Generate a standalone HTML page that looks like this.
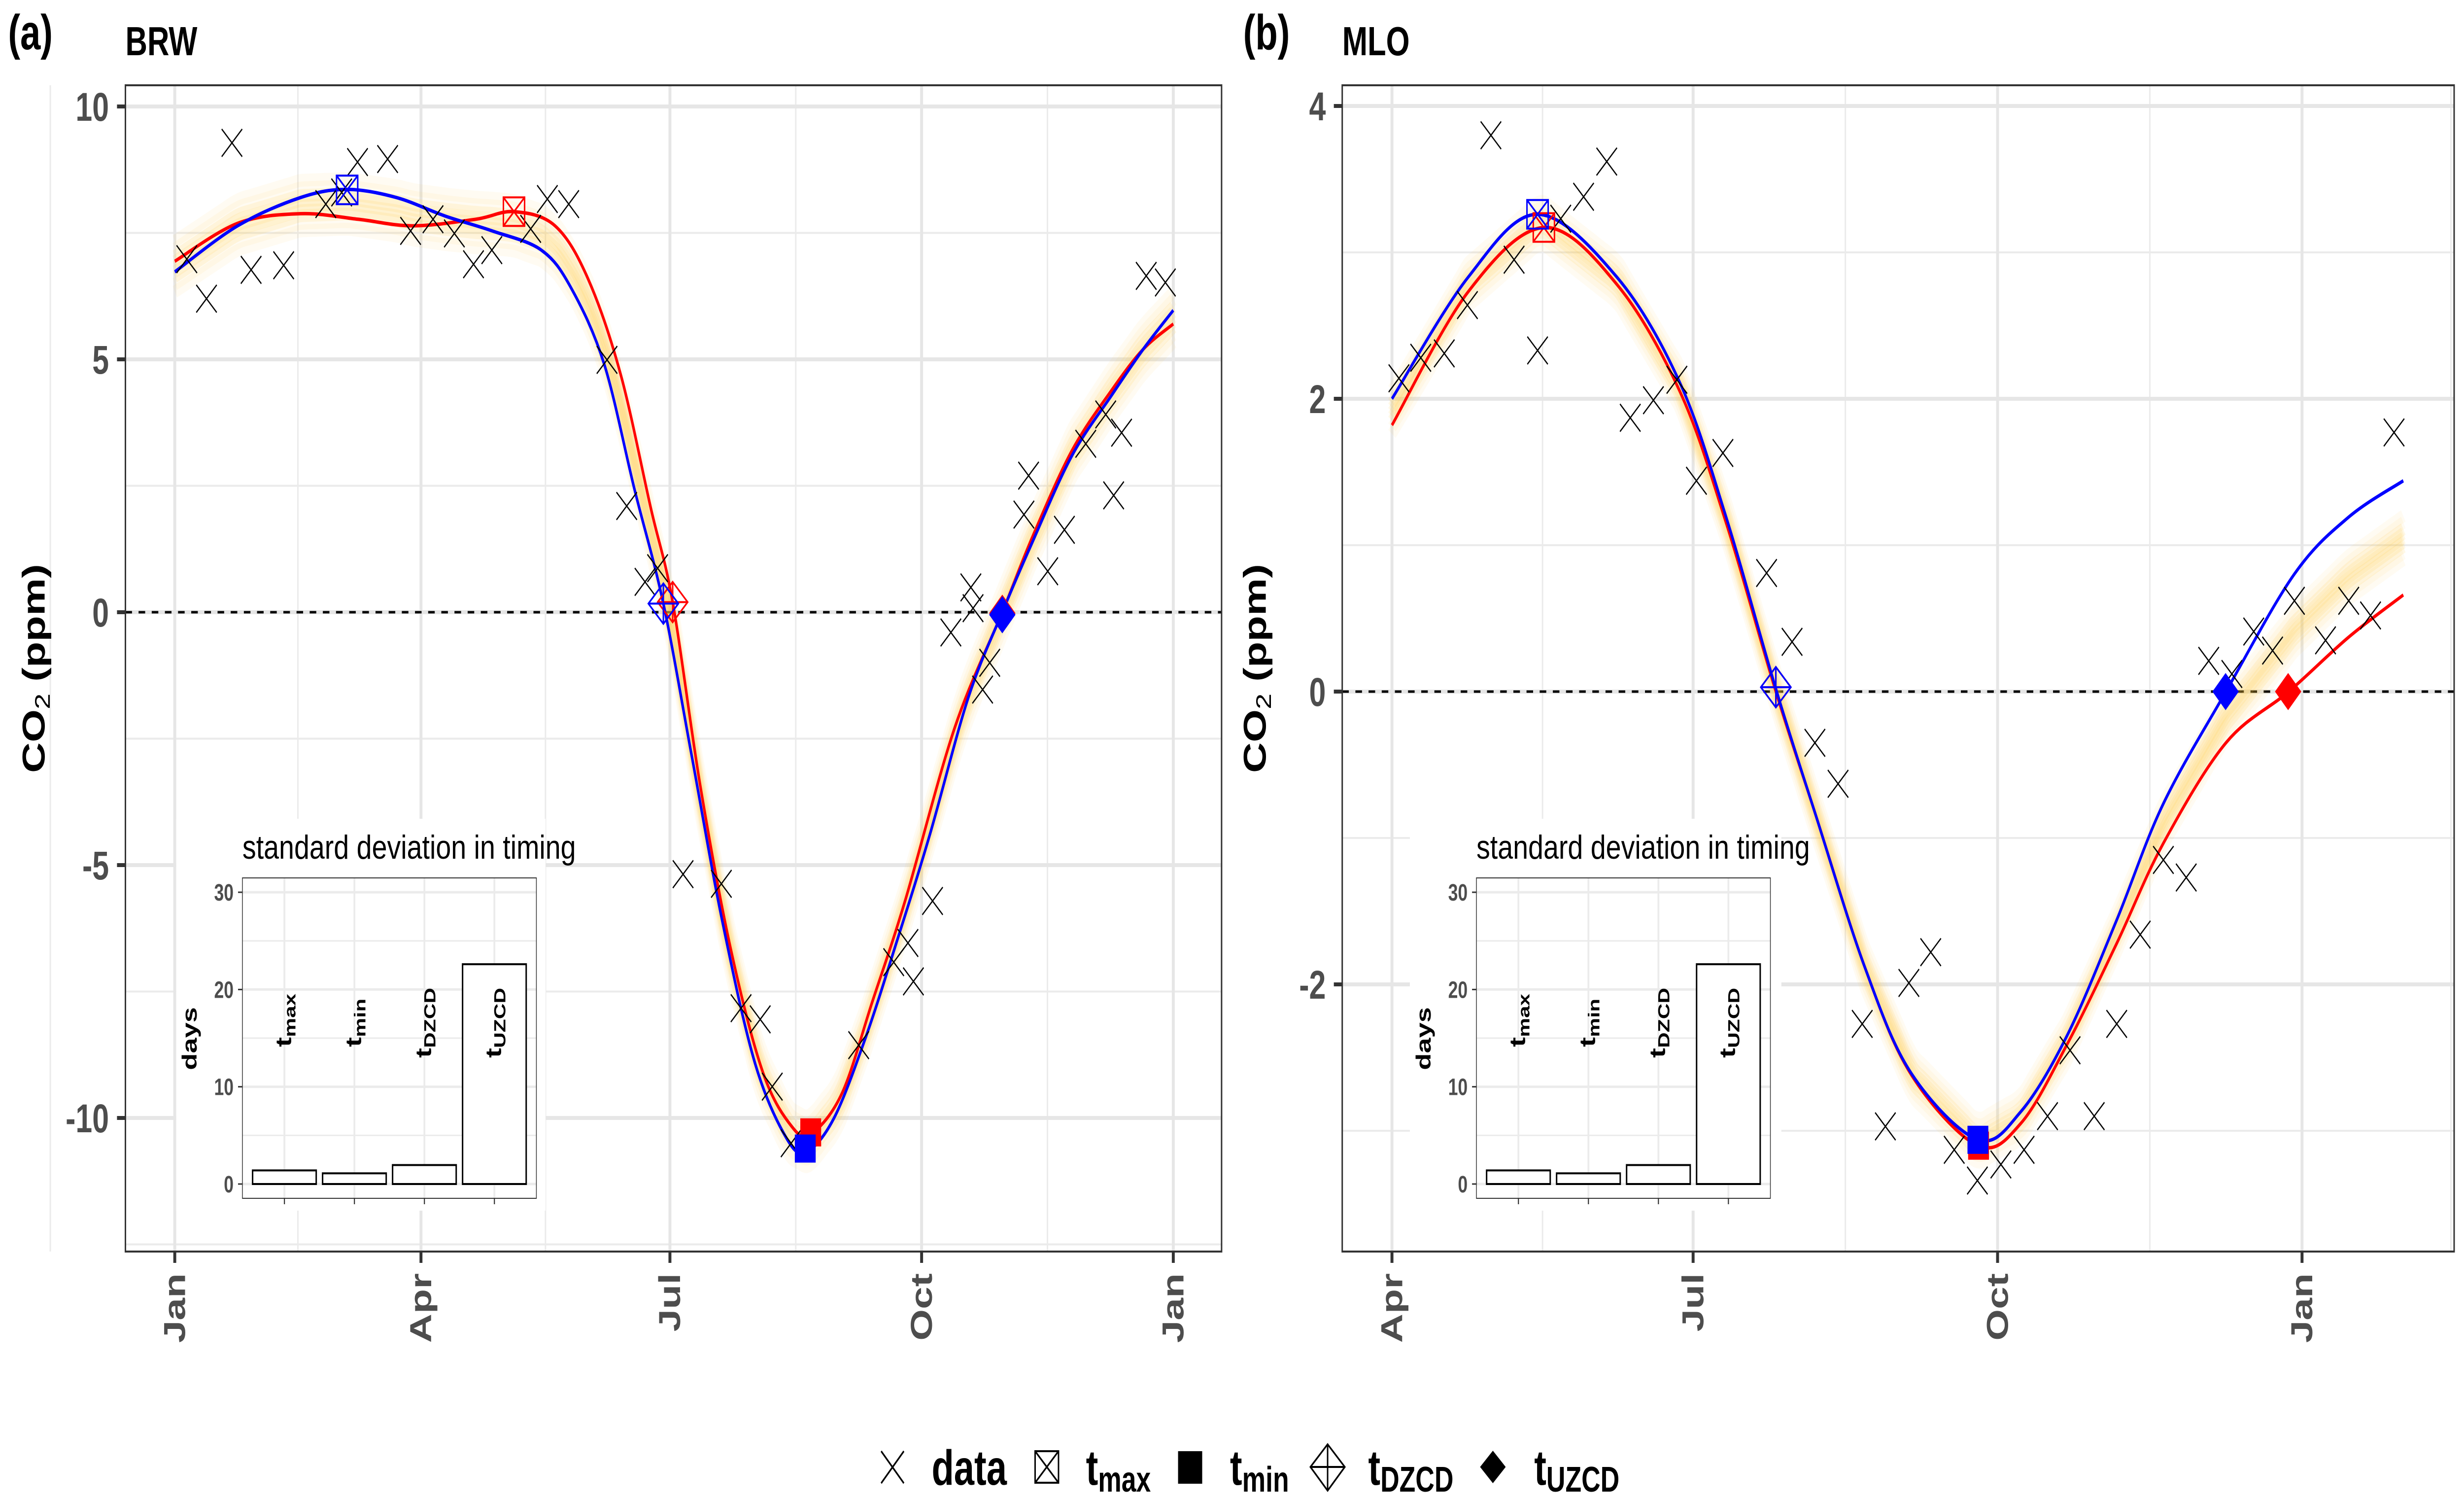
<!DOCTYPE html>
<html><head><meta charset="utf-8">
<style>
html,body{margin:0;padding:0;background:#fff;overflow:hidden;width:100%;height:100%;}
svg{display:block;}
text{font-family:"Liberation Sans",Arial,sans-serif;}
</style></head>
<body>
<svg id="fig" xmlns="http://www.w3.org/2000/svg" style="width:100vw;height:100vh" viewBox="0 0 6739 3041" preserveAspectRatio="none">
<rect x="0" y="0" width="6739" height="3041" fill="#fff"/>
<g id="legend">
  <g>
    <path d="M2410,2944L2472,3009M2410,3009L2472,2944" stroke="#000" stroke-width="4" fill="none"/>
    <text x="2548" y="3012" font-size="100" font-weight="bold">data</text>
  </g>
  <g>
    <path d="M2831,2944h64v64h-64zM2831,2944L2895,3008M2895,2944L2831,3008" stroke="#000" stroke-width="4" fill="none"/>
    <text x="2970" y="3012" font-size="100" font-weight="bold">t<tspan font-size="72" dy="14">max</tspan></text>
  </g>
  <g>
    <rect x="3222" y="2944" width="66" height="66" fill="#000"/>
    <text x="3364" y="3012" font-size="100" font-weight="bold">t<tspan font-size="72" dy="14">min</tspan></text>
  </g>
  <g>
    <path d="M3631,2930L3678,2976L3631,3024L3584,2976zM3631,2930V3024M3584,2976H3678" stroke="#000" stroke-width="4" fill="none"/>
    <text x="3742" y="3012" font-size="100" font-weight="bold">t<tspan font-size="72" dy="14">DZCD</tspan></text>
  </g>
  <g>
    <path d="M4083,2943L4118,2976L4083,3009L4048,2976z" fill="#000"/>
    <text x="4196" y="3012" font-size="100" font-weight="bold">t<tspan font-size="72" dy="14">UZCD</tspan></text>
  </g>
</g>
</svg>
<script>
// ---------- Panel (a) BRW data ----------
const aDataDays = [4.4,11.6,20.9,27.9,39.8,55.2,61,66.8,77.8,86.2,94.4,102.2,109.2,115.9,130.1,136.2,144.0,158.0,165.2,171.9,176.5,185.8,199.8,207.0,214.0,218.4,225.3,250.0,262.8,268.0,270.0,277.0,283.7,291.0,291.8,295.3,297.9,310.4,312.1,319.1,325.2,333.0,340.3,343.2,346.1,355.1,362.1];
const aDataVals = [6.98,6.20,9.28,6.77,6.86,8.07,8.3,8.90,8.96,7.54,7.77,7.49,6.88,7.16,7.58,8.17,8.07,4.99,2.10,0.60,0.87,-5.18,-5.37,-7.83,-8.05,-9.38,-10.5,-8.56,-6.92,-6.54,-7.30,-5.71,-0.40,0.49,0.08,-1.53,-1.00,1.93,2.70,0.81,1.63,3.33,3.91,2.31,3.55,6.65,6.52];
const aRedDays = [0,23,46,67,87,110,124,139,151,163,174,182,192,203,215,226,233,244,255,267,285,302.5,313.6,328,342.6,354,365];
const aRedVals = [6.94,7.69,7.88,7.77,7.64,7.77,7.92,7.64,6.6,4.7,2.06,0.2,-3.4,-6.6,-9.1,-10.2,-10.3,-9.5,-7.7,-5.7,-2.3,0,1.5,3.2,4.4,5.2,5.7];
const aBlueDays = [0,23,46,63,81,99,116,134,145,157,168,178.6,189,200,212,223.6,231,241,252.6,264,276,290,302.5,313.6,328,342.6,354,365];
const aBlueVals = [6.73,7.64,8.2,8.36,8.2,7.83,7.54,7.16,6.4,4.9,2.44,0.17,-2.85,-6.07,-8.9,-10.4,-10.66,-10.0,-8.4,-6.5,-4.4,-1.7,0,1.4,3.1,4.3,5.2,5.97];
const aRedMarks = [[124,7.92],[232.4,-10.28],[182,0.2],[302.5,-0.02]];
const aBlueMarks = [[63,8.35],[230.4,-10.6],[178.6,0.17],[302.5,-0.05]];
const aSdLabels = ["max","min","DZCD","UZCD"];
const aSdVals = [1.4,1.1,1.95,22.6];

// ---------- Panel (b) MLO data ----------
const bDataDays = [2.1,8.7,15.8,22.8,29.9,36.9,44.0,51.0,57.9,64.9,72.0,79.0,86.1,92.0,100.0,113.2,120.9,127.8,134.8,142.1,149.1,156.2,162.8,169.9,176.9,184.0,191.0,198.1,204.9,212.2,219.0,226.1,233.1,240.0,246.8,253.8,260.4,266.1,272.7,282.1,289.1,295.7,302.8];
const bDataVals = [2.14,2.28,2.31,2.64,3.80,2.95,2.33,3.23,3.38,3.62,1.87,1.99,2.13,1.44,1.63,0.81,0.34,-0.35,-0.63,-2.27,-2.97,-1.99,-1.78,-3.13,-3.34,-3.23,-3.13,-2.90,-2.45,-2.90,-2.27,-1.66,-1.15,-1.27,0.21,0.12,0.41,0.28,0.62,0.35,0.62,0.52,1.77];
const bRedDays = [0,23,46,68,87,101,116,128,143,157,177,190,204,219,233,252,271,289,305.6];
const bRedVals = [1.82,2.73,3.17,2.78,2.05,1.15,0,-0.84,-1.89,-2.62,-3.1,-2.95,-2.41,-1.72,-1.04,-0.35,0,0.37,0.66];
const bBlueDays = [0,23,44,68,87,101,116,128,143,157,177,190,204,219,233,252,272.6,289,305.6];
const bBlueVals = [2.0,2.83,3.26,2.83,2.11,1.19,0.02,-0.84,-1.89,-2.61,-3.06,-2.87,-2.35,-1.56,-0.77,0,0.8,1.19,1.44];
const bRedMarks = [[45.9,3.17],[177.2,-3.1],[116,0.03],[270.8,0]];
const bBlueMarks = [[44,3.26],[177,-3.06],[116,0.03],[251.9,0]];
const bSdLabels = ["max","min","DZCD","UZCD"];
const bSdVals = [1.4,1.1,1.95,22.6];

const NS = "http://www.w3.org/2000/svg";
const svg = document.getElementById('fig');
const legendNode = document.getElementById('legend');
function el(tag, attrs, parent, txt){
  const e = document.createElementNS(NS, tag);
  for (const k in attrs) e.setAttribute(k, attrs[k]);
  if (txt !== undefined) e.textContent = txt;
  if (parent) parent.appendChild(e); else svg.insertBefore(e, legendNode);
  return e;
}
function spline(pts){
  let d = "M" + pts[0][0].toFixed(1) + "," + pts[0][1].toFixed(1);
  for (let i=0;i<pts.length-1;i++){
    const p0 = pts[Math.max(0,i-1)], p1 = pts[i], p2 = pts[i+1], p3 = pts[Math.min(pts.length-1,i+2)];
    const c1 = [p1[0]+(p2[0]-p0[0])/6, p1[1]+(p2[1]-p0[1])/6];
    const c2 = [p2[0]-(p3[0]-p1[0])/6, p2[1]-(p3[1]-p1[1])/6];
    d += " C"+c1[0].toFixed(1)+","+c1[1].toFixed(1)+" "+c2[0].toFixed(1)+","+c2[1].toFixed(1)+" "+p2[0].toFixed(1)+","+p2[1].toFixed(1);
  }
  return d;
}
function interp(days, vals, d){
  if (d<=days[0]) return vals[0];
  for (let i=0;i<days.length-1;i++){
    if (d<=days[i+1]){ const t=(d-days[i])/(days[i+1]-days[i]); return vals[i]+t*(vals[i+1]-vals[i]); }
  }
  return vals[vals.length-1];
}

function drawPanel(cfg){
  const g = el('g', {});
  
  
  const {L,R,T,B} = cfg;
  const X = cfg.x, Y = cfg.y;
  cfg.yMinor.forEach(v=>{ const l=el('line',{x1:L,x2:R,y1:Y(v),y2:Y(v),stroke:'#ebebeb','stroke-width':4},g);   });
  cfg.xMinor.forEach(d=>{ const l=el('line',{x1:X(d),x2:X(d),y1:T,y2:B,stroke:'#ebebeb','stroke-width':4},g);   });
  cfg.yTicks.forEach(v=>{ const l=el('line',{x1:L,x2:R,y1:Y(v),y2:Y(v),stroke:'#e6e6e6','stroke-width':8},g);   });
  cfg.xTicks.forEach(d=>{ const l=el('line',{x1:X(d),x2:X(d),y1:T,y2:B,stroke:'#e6e6e6','stroke-width':8},g);   });
  const z = el('line',{x1:L,x2:R,y1:Y(0),y2:Y(0),stroke:'#000','stroke-width':5,'stroke-dasharray':'18,18'},g);
   
  const bandG = el('g',{},g);
   
  const d0 = Math.min(cfg.redDays[0], cfg.blueDays[0]);
  const d1 = Math.max(cfg.redDays[cfg.redDays.length-1], cfg.blueDays[cfg.blueDays.length-1]);
  const offs = [-0.5,-0.35,-0.2,-0.1,0,0.1,0.2,0.35,0.5];
  offs.forEach(o=>{
    const pts=[];
    for (let d=d0; d<=d1+0.01; d+=(d1-d0)/120){
      const m=(interp(cfg.redDays,cfg.redVals,d)+interp(cfg.blueDays,cfg.blueVals,d))/2;
      pts.push([X(d), Y(m+o*cfg.bandScale)]);
    }
    const p = el('path',{d:spline(pts),fill:'none',stroke:'#ffc640','stroke-opacity':(Math.abs(o)>0.3?0.07:0.13),'stroke-width':26,'stroke-linejoin':'round'},bandG);
     
  });
  const ib = el('rect',{x:cfg.inBg[0],y:1661,width:cfg.inBg[1]-cfg.inBg[0],height:795,fill:'#fff'},g);
   
  const rp = el('path',{d:spline(cfg.redDays.map((d,i)=>[X(d),Y(cfg.redVals[i])])),fill:'none',stroke:'#ff0000','stroke-width':7},g);
   
  const bp = el('path',{d:spline(cfg.blueDays.map((d,i)=>[X(d),Y(cfg.blueVals[i])])),fill:'none',stroke:'#0000ff','stroke-width':7},g);
   
  cfg.dataDays.forEach((d,i)=>{
    const cx=X(d), cy=Y(cfg.dataVals[i]), s=28;
    const p=el('path',{d:`M${cx-s},${cy-s}L${cx+s},${cy+s}M${cx-s},${cy+s}L${cx+s},${cy-s}`,stroke:'#000','stroke-width':3,fill:'none'},g);
     
  });
  function marks(arr,col,nm){
    const [mx,mn,dz,uz]=arr;
    let cx=X(mx[0]), cy=Y(mx[1]), s=29;
    let m=el('path',{d:`M${cx-s},${cy-s}h${2*s}v${2*s}h${-2*s}zM${cx-s},${cy-s}L${cx+s},${cy+s}M${cx+s},${cy-s}L${cx-s},${cy+s}`,fill:'none',stroke:col,'stroke-width':4},g);
     
    cx=X(mn[0]); cy=Y(mn[1]);
    m=el('rect',{x:cx-28,y:cy-28,width:57,height:57,fill:col},g);
     
    cx=X(dz[0]); cy=Y(dz[1]); s=41;
    m=el('path',{d:`M${cx},${cy-s}L${cx+s},${cy}L${cx},${cy+s}L${cx-s},${cy}zM${cx},${cy-s}V${cy+s}M${cx-s},${cy}H${cx+s}`,fill:'none',stroke:col,'stroke-width':4},g);
     
    cx=X(uz[0]); cy=Y(uz[1]); s=36;
    m=el('path',{d:`M${cx},${cy-s*1.05}L${cx+s},${cy}L${cx},${cy+s*1.05}L${cx-s},${cy}z`,fill:col},g);
     
  }
  marks(cfg.redMarks,'#ff0000','red');
  marks(cfg.blueMarks,'#0000ff','blue');
  const bd = el('rect',{x:L,y:T,width:R-L,height:B-T,fill:'none',stroke:'#333','stroke-width':4},g);
   
  cfg.yTicks.forEach((v,i)=>{
    const t=el('line',{x1:L-23,x2:L,y1:Y(v),y2:Y(v),stroke:'#333','stroke-width':8},g);
     
    const tx=el('text',{x:L-45,y:Y(v)+29,'text-anchor':'end','font-size':82,'font-weight':'bold',fill:'#4d4d4d'},g,cfg.yLabels[i]);
     
  });
  cfg.xTicks.forEach((d,i)=>{
    const t=el('line',{x1:X(d),x2:X(d),y1:B,y2:B+23,stroke:'#333','stroke-width':8},g);
     
    const xx=X(d)+28, yy=B+44;
    const tx=el('text',{x:xx,y:yy,'text-anchor':'end','font-size':82,'font-weight':'bold',fill:'#4d4d4d',transform:`rotate(-90 ${xx} ${yy})`},g,cfg.xLabels[i]);
     
  });
  const yt=el('text',{x:cfg.ytX,y:1356,'text-anchor':'middle','font-size':86,'font-weight':'bold',fill:'#000',transform:`rotate(-90 ${cfg.ytX} 1356)`},g);
   
  el('tspan',{},yt,'CO');
  el('tspan',{'font-size':58,'font-weight':'normal',dy:14},yt,'2');
  el('tspan',{dy:-14},yt,' (ppm)');
  const tag=el('text',{x:cfg.tagX,y:100,'font-size':100,'font-weight':'bold',fill:'#000'},g,cfg.tag);
   
  const ti=el('text',{x:L,y:112,'font-size':83,'font-weight':'bold',fill:'#000'},g,cfg.title);
   

  const ig = el('g',{},g);
   
  const iL=cfg.inL, iR=cfg.inL+804, iT=1781, iB=2431;
  const IY = v=>2402 - v*19.73;
  const bw = 174, step=(iR-iL)/4.2, c0=iL+step*0.6;
  const IX = i=> c0 + i*step;
  [5,15,25].forEach(v=>{ const l=el('line',{x1:iL,x2:iR,y1:IY(v),y2:IY(v),stroke:'#ebebeb','stroke-width':3},ig);   });
  [0,10,20,30].forEach(v=>{ const l=el('line',{x1:iL,x2:iR,y1:IY(v),y2:IY(v),stroke:'#ebebeb','stroke-width':5},ig);   });
  cfg.sdVals.forEach((v,i)=>{ const l=el('line',{x1:IX(i),x2:IX(i),y1:iT,y2:iB,stroke:'#ebebeb','stroke-width':5},ig);   });
  cfg.sdVals.forEach((v,i)=>{
    const r=el('rect',{x:IX(i)-bw/2,y:IY(v),width:bw,height:IY(0)-IY(v),fill:'#fff',stroke:'#000','stroke-width':4},ig);
     
    const lx=IX(i)+18, ly=(i<2?2124:2146);
    const t=el('text',{x:lx,y:ly,'font-size':60,'font-weight':'bold',fill:'#000',transform:`rotate(-90 ${lx} ${ly})`},ig);
     
    el('tspan',{},t,'t');
    el('tspan',{'font-size':44,dy:12},t,cfg.sdLabels[i]);
    const tk=el('line',{x1:IX(i),x2:IX(i),y1:iB,y2:iB+12,stroke:'#333','stroke-width':3},ig);
     
  });
  const ibd=el('rect',{x:iL,y:iT,width:iR-iL,height:iB-iT,fill:'none',stroke:'#333','stroke-width':2},ig);
   
  [0,10,20,30].forEach(v=>{
    const tk=el('line',{x1:iL-12,x2:iL,y1:IY(v),y2:IY(v),stroke:'#333','stroke-width':3},ig);
     
    const tx=el('text',{x:iL-24,y:IY(v)+17,'text-anchor':'end','font-size':48,'font-weight':'bold',fill:'#4d4d4d'},ig,String(v));
     
  });
  const dx=iL-125;
  const dy=el('text',{x:dx,y:2107,'text-anchor':'middle','font-size':56,'font-weight':'bold',fill:'#000',transform:`rotate(-90 ${dx} 2107)`},ig,'days');
   
  const it=el('text',{x:iL,y:1742,'font-size':68,fill:'#000',textLength:912,lengthAdjust:'spacingAndGlyphs'},ig,'standard deviation in timing');
   
}

drawPanel({
  name:'panel-a-brw', L:343,R:3341,T:173,B:2539,
  x:d=>478+d*7.482, y:v=>1242-v*102.6,
  yTicks:[10,5,0,-5,-10], yLabels:['10','5','0','-5','-10'], yMinor:[7.5,2.5,-2.5,-7.5,-12.5],
  xTicks:[0,90,181,273,365], xLabels:['Jan','Apr','Jul','Oct','Jan'], xMinor:[-45.5,45,135.5,227,319],
  dataDays:aDataDays, dataVals:aDataVals, redDays:aRedDays, redVals:aRedVals, blueDays:aBlueDays, blueVals:aBlueVals,
  redMarks:aRedMarks, blueMarks:aBlueMarks, sdLabels:aSdLabels, sdVals:aSdVals,
  bandScale:1.0, inBg:[482,1492], inL:663, ytX:122, tag:'(a)', tagX:22, title:'BRW'
});
drawPanel({
  name:'panel-b-mlo', L:3671,R:6712,T:173,B:2539,
  x:d=>3807+d*9.051, y:v=>1403-v*297,
  yTicks:[4,2,0,-2], yLabels:['4','2','0','-2'], yMinor:[3,1,-1,-3],
  xTicks:[0,91,183,275], xLabels:['Apr','Jul','Oct','Jan'], xMinor:[45.5,137,229,320],
  dataDays:bDataDays, dataVals:bDataVals, redDays:bRedDays, redVals:bRedVals, blueDays:bBlueDays, blueVals:bBlueVals,
  redMarks:bRedMarks, blueMarks:bBlueMarks, sdLabels:bSdLabels, sdVals:bSdVals,
  bandScale:0.3, inBg:[3856,4872], inL:4038, ytX:3462, tag:'(b)', tagX:3400, title:'MLO'
});
</script>
</body></html>
